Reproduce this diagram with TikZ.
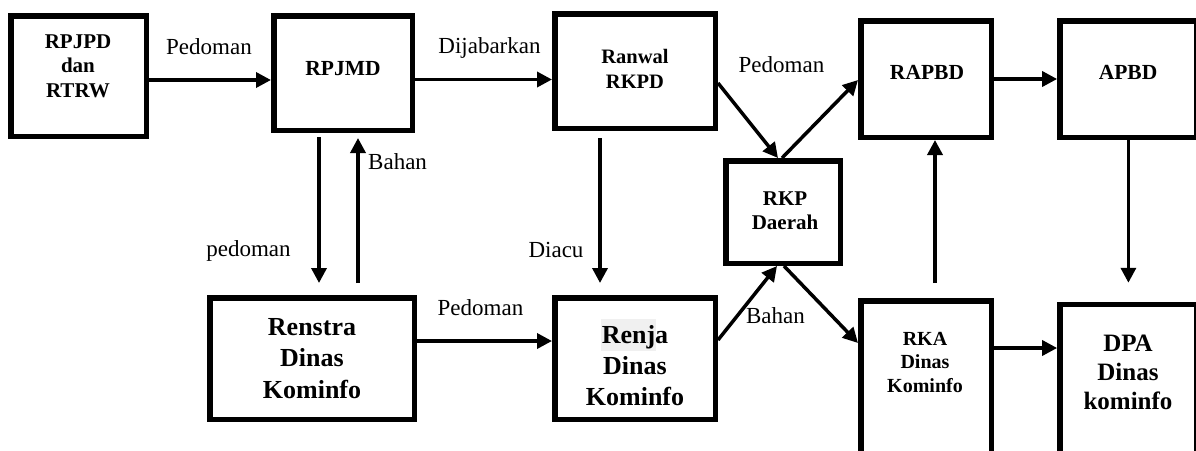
\documentclass[tikz,border=0pt]{standalone}
\usepackage{fontspec}
\setmainfont{Liberation Serif}
\usetikzlibrary{arrows.meta,calc}
\definecolor{hl}{RGB}{240,240,240}
\begin{document}
\begin{tikzpicture}[x=1pt,y=-1pt,
  box/.style={draw, line width=5.5pt, inner sep=0pt},
  txt/.style={align=center, inner sep=0pt, font=\bfseries},
  lbl/.style={inner sep=0pt, anchor=base, font=\fontsize{23}{27}\selectfont},
  arr/.style={line width=3.5pt, -{Triangle[length=15pt,width=15pt]}}]
\useasboundingbox (0,0) rectangle (1196,450);
\clip (0,0) rectangle (1196,450);
% boxes
\node[box, minimum width=135.5pt, minimum height=120.5pt] (rpjpd) at (78.5,76) {};
\node[box, minimum width=138.5pt, minimum height=114.5pt] (rpjmd) at (343,73) {};
\node[box, minimum width=160.5pt, minimum height=114.5pt] (ranwal) at (635,71) {};
\node[box, minimum width=130.5pt, minimum height=116.5pt] (rapbd) at (926,79) {};
\node[box, minimum width=137pt, minimum height=116.5pt] (apbd) at (1128.4,79) {};
\node[box, minimum width=114.5pt, minimum height=102.5pt] (rkp) at (783,212) {};
\node[box, minimum width=204.5pt, minimum height=121.5pt] (renstra) at (312,358.5) {};
\node[box, minimum width=160.5pt, minimum height=121.5pt] (renja) at (635,358.5) {};
\node[box, minimum width=130.5pt, minimum height=157pt] (rka) at (926,379.4) {};
\node[box, minimum width=137pt, minimum height=155pt] (dpa) at (1128.4,382) {};
\fill[hl] (601,319) rectangle (656,351);
% box texts
\node[txt, font=\fontsize{21}{24.5}\selectfont\bfseries] (rpjpdT) at (78,67.6) {\strut RPJPD\\dan\\RTRW\strut};
\node[txt, font=\fontsize{21.5}{24}\selectfont\bfseries] (rpjmdT) at (343,70.2) {\strut RPJMD\strut};
\node[txt, font=\fontsize{20.5}{25}\selectfont\bfseries] (ranwalT) at (635,70.5) {\strut Ranwal\\RKPD\strut};
\node[txt, font=\fontsize{21.5}{24}\selectfont\bfseries] (rapbdT) at (927,74.2) {\strut RAPBD\strut};
\node[txt, font=\fontsize{21.5}{24}\selectfont\bfseries] (apbdT) at (1128,74.2) {\strut APBD\strut};
\node[txt, font=\fontsize{21}{24}\selectfont\bfseries] (rkpT) at (785,212.2) {\strut RKP\\Daerah\strut};
\node[txt, font=\fontsize{26}{31.5}\selectfont\bfseries] (renstraT) at (312,360.2) {\strut Renstra\\Dinas\\Kominfo\strut};
\node[txt, font=\fontsize{26}{31}\selectfont\bfseries] (renjaT) at (635,367.8) {\strut Renja\\Dinas\\Kominfo\strut};
\node[txt, font=\fontsize{20}{23.5}\selectfont\bfseries] (rkaT) at (925,363.8) {\strut RKA\\Dinas\\Kominfo\strut};
\node[txt, font=\fontsize{25}{29}\selectfont\bfseries] (dpaT) at (1128,374.2) {\strut DPA\\Dinas\\kominfo\strut};
% edge labels
\node[lbl] (l1) at (209,54.3) {Pedoman};
\node[lbl] (l2) at (489.5,53.3) {Dijabarkan};
\node[lbl] (l3) at (781.5,72.7) {Pedoman};
\node[lbl, anchor=base west] (l4) at (368,169) {Bahan};
\node[lbl] (l5) at (248.5,256.7) {pedoman};
\node[lbl] (l6) at (556,257.7) {Diacu};
\node[lbl] (l7) at (480.5,315) {Pedoman};
\node[lbl] (l8) at (775.5,323.3) {Bahan};
% arrows
\draw[arr] ([yshift=-4pt]rpjpd.east) -- ([yshift=-7pt]rpjmd.west);
\draw[arr] ([yshift=-6.5pt]rpjmd.east) -- ([yshift=-8.5pt]ranwal.west);
\draw[arr] ([yshift=-12pt]ranwal.east) -- ([xshift=-5pt]rkp.north);
\draw[arr] ([xshift=-1pt]rkp.north) -- ([yshift=-1pt]rapbd.west);
\draw[arr] (rapbd.east) -- (apbd.west);
\draw[arr, shorten <=4pt, shorten >=12pt] ([xshift=-24pt]rpjmd.south) -- ([xshift=7pt]renstra.north);
\draw[arr, shorten <=12pt, shorten >=5pt] ([xshift=46pt]renstra.north) -- ([xshift=15pt]rpjmd.south);
\draw[arr, shorten <=7pt, shorten >=12pt] ([xshift=-35pt]ranwal.south) -- ([xshift=-35pt]renja.north);
\draw[arr] ([yshift=17.5pt]renstra.east) -- ([yshift=17.5pt]renja.west);
\draw[arr] ([yshift=18.5pt]renja.east) -- ([xshift=-6pt]rkp.south);
\draw[arr] ([xshift=1pt]rkp.south) -- ([yshift=36.4pt]rka.west);
\draw[arr, shorten <=15pt] ([xshift=9pt]rka.north) -- ([xshift=9pt]rapbd.south);
\draw[arr, shorten >=19pt] (apbd.south) -- (dpa.north);
\draw[arr] ([yshift=31.4pt]rka.east) -- ([yshift=34pt]dpa.west);
\end{tikzpicture}
\end{document}
